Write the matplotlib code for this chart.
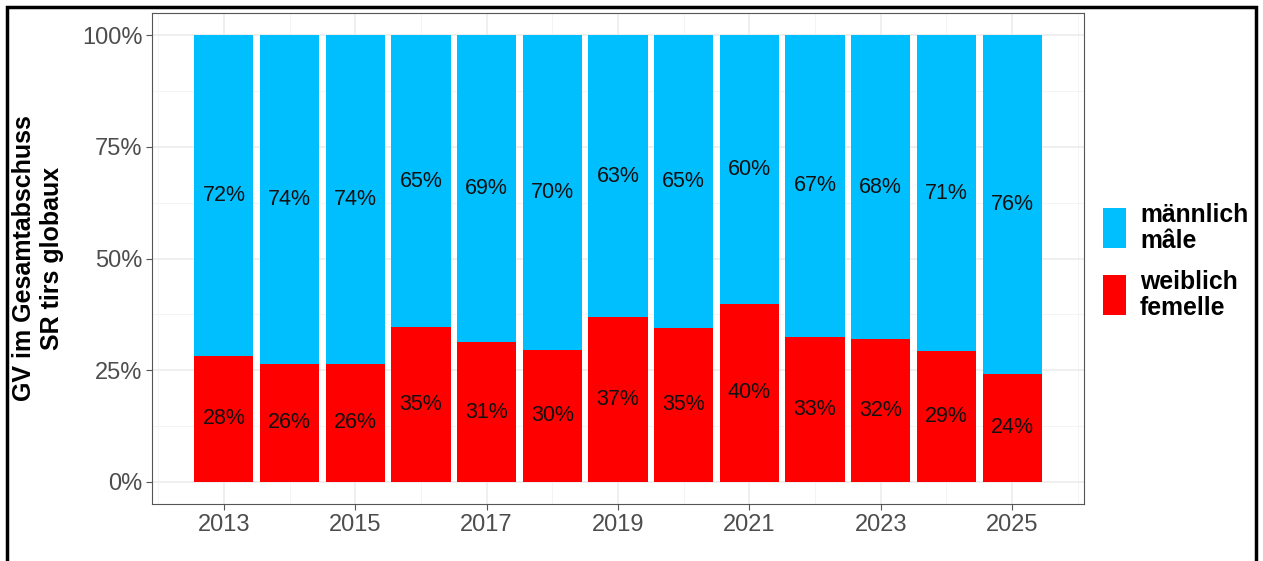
import matplotlib
matplotlib.use("Agg")
import matplotlib.pyplot as plt
from matplotlib.patches import Rectangle
import numpy as np

plt.rcParams['font.family'] = ['Liberation Sans', 'DejaVu Sans']

years = [2013, 2014, 2015, 2016, 2017, 2018, 2019, 2020, 2021, 2022, 2023, 2024, 2025]
female = [0.282, 0.264, 0.264, 0.347, 0.312, 0.295, 0.369, 0.345, 0.398, 0.325, 0.320, 0.293, 0.242]
male = [1 - f for f in female]
female_labels = ["28%", "26%", "26%", "35%", "31%", "30%", "37%", "35%", "40%", "33%", "32%", "29%", "24%"]
male_labels = ["72%", "74%", "74%", "65%", "69%", "70%", "63%", "65%", "60%", "67%", "68%", "71%", "76%"]
y_ticks = [0, 0.25, 0.5, 0.75, 1.0]
y_ticklabels = ["0%", "25%", "50%", "75%", "100%"]
x_ticks = [2013, 2015, 2017, 2019, 2021, 2023, 2025]
series_names = ["männlich\nmâle", "weiblich\nfemelle"]
ylabel = "GV im Gesamtabschuss\nSR tirs globaux"

c_male = "#00BFFF"
c_female = "#FF0000"

W, H = 1263, 561
fig = plt.figure(figsize=(W / 100, H / 100), dpi=100)
ax = fig.add_axes([152 / W, 1 - 504 / H, 932 / W, 491 / H])

ax.bar(years, female, width=0.9, color=c_female, zorder=3)
ax.bar(years, male, bottom=female, width=0.9, color=c_male, zorder=3)

for x, f, m, fl, ml in zip(years, female, male, female_labels, male_labels):
    ax.text(x, f / 2, fl, ha='center', va='center', fontsize=15.5, color='#111111', zorder=4)
    ax.text(x, f + m / 2, ml, ha='center', va='center', fontsize=15.5, color='#111111', zorder=4)

ax.set_xlim(2012.55 - 0.645, 2025.45 + 0.645)
ax.set_ylim(-0.05, 1.05)
ax.set_yticks(y_ticks)
ax.set_yticklabels(y_ticklabels)
ax.set_xticks(x_ticks)
ax.set_xticks(np.arange(2012, 2027, 2), minor=True)
ax.set_yticks([0.125, 0.375, 0.625, 0.875], minor=True)
ax.grid(True, which='major', color='#EBEBEB', linewidth=1.1, zorder=0)
ax.grid(True, which='minor', color='#F3F3F3', linewidth=0.6, zorder=0)
ax.tick_params(axis='both', which='major', labelsize=17, labelcolor='#4D4D4D',
               color='#555555', length=4, width=0.8, pad=3)
ax.tick_params(axis='both', which='minor', length=0)
for s in ax.spines.values():
    s.set_color('#555555')
    s.set_linewidth(0.8)

fig.text(38 / W, 1 - 258 / H, ylabel, rotation=90, ha='center', va='center',
         fontsize=18, fontweight='bold', linespacing=1.2, color='black')

# legend (manual placement)
key_x, key_w, key_h = 1103, 23, 40
for i, (name, col) in enumerate(zip(series_names, [c_male, c_female])):
    cy = 228 + i * 67
    fig.patches.append(Rectangle((key_x / W, 1 - (cy + key_h / 2) / H), key_w / W, key_h / H,
                                 transform=fig.transFigure, facecolor=col, edgecolor='none'))
    fig.text(1140 / W, 1 - cy / H, name, ha='left', va='center', fontsize=17.8,
             fontweight='bold', linespacing=1.12, color='black')

# outer black border
fig.patches.append(Rectangle((7 / W, -0.05), 1249 / W, 1.05 - 7 / H,
                             transform=fig.transFigure, fill=False, edgecolor='black',
                             linewidth=2.5, zorder=10))

fig.savefig("out.png", dpi=100)
